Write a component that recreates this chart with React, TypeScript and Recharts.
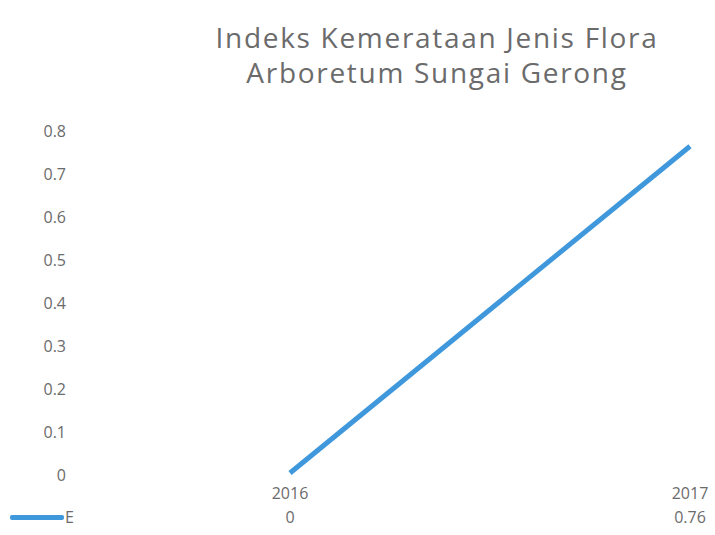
import { LineChart, Line, XAxis, YAxis } from 'recharts';

// Indeks Kemerataan Jenis Flora – Arboretum Sungai Gerong
// Excel-style line chart with a one-row data table under the axis.

const years = ['2016', '2017'];
const evenness = [0, 0.76];
const yTicks = [0, 0.1, 0.2, 0.3, 0.4, 0.5, 0.6, 0.7, 0.8];
const seriesName = 'E';
const titleLines = ['Indeks Kemerataan Jenis Flora', 'Arboretum Sungai Gerong'];

const BLUE = '#3f97dc';
const GREY = '#6b6b6b';
const FONT = '"Open Sans", "Noto Sans", sans-serif';

const data = years.map((year, i) => ({ year, value: evenness[i] }));

// eslint-disable-next-line @typescript-eslint/no-explicit-any
function TableTick({ x, y, payload, index }: any) {
  return (
    <g>
      <text x={x} y={y + 24} textAnchor="middle" fill={GREY} fontSize={16} fontFamily={FONT}>
        {payload.value}
      </text>
      <text x={x} y={y + 48} textAnchor="middle" fill={GREY} fontSize={16} fontFamily={FONT}>
        {String(evenness[index])}
      </text>
    </g>
  );
}

export default function App() {
  return (
    <div style={{ position: 'absolute', left: 0, top: 0, width: 715, height: 535, background: '#fff', overflow: 'hidden' }}>
      {titleLines.map((line, i) => (
        <div
          key={i}
          style={{
            position: 'absolute',
            left: 180,
            width: 514,
            top: 22 + i * 35,
            textAlign: 'center',
            color: GREY,
            fontFamily: FONT,
            fontSize: 28,
            letterSpacing: 1.7,
            lineHeight: '30px',
            whiteSpace: 'nowrap',
          }}
        >
          {line}
        </div>
      ))}

      <LineChart width={715} height={535} data={data} margin={{ top: 129, right: 0, bottom: 0, left: 0 }}>
        <XAxis
          dataKey="year"
          axisLine={false}
          tickLine={false}
          tickSize={0}
          height={62}
          padding={{ left: 200, right: 25 }}
          interval={0}
          tick={<TableTick />}
        />
        <YAxis
          width={90}
          domain={[0, 0.8]}
          ticks={yTicks}
          axisLine={false}
          tickLine={false}
          tickSize={0}
          tickMargin={24}
          tick={{ fill: GREY, fontSize: 16, fontFamily: FONT, dy: 2 }}
        />
        <Line
          dataKey="value"
          stroke={BLUE}
          strokeWidth={5}
          dot={false}
          isAnimationActive={false}
        />
      </LineChart>

      {/* legend key of the data table */}
      <div style={{ position: 'absolute', left: 10, top: 506, display: 'flex', alignItems: 'center' }}>
        <div style={{ width: 54, height: 5, background: BLUE, borderRadius: 2 }} />
        <span style={{ color: GREY, fontFamily: FONT, fontSize: 16, marginLeft: 1 }}>{seriesName}</span>
      </div>
    </div>
  );
}
